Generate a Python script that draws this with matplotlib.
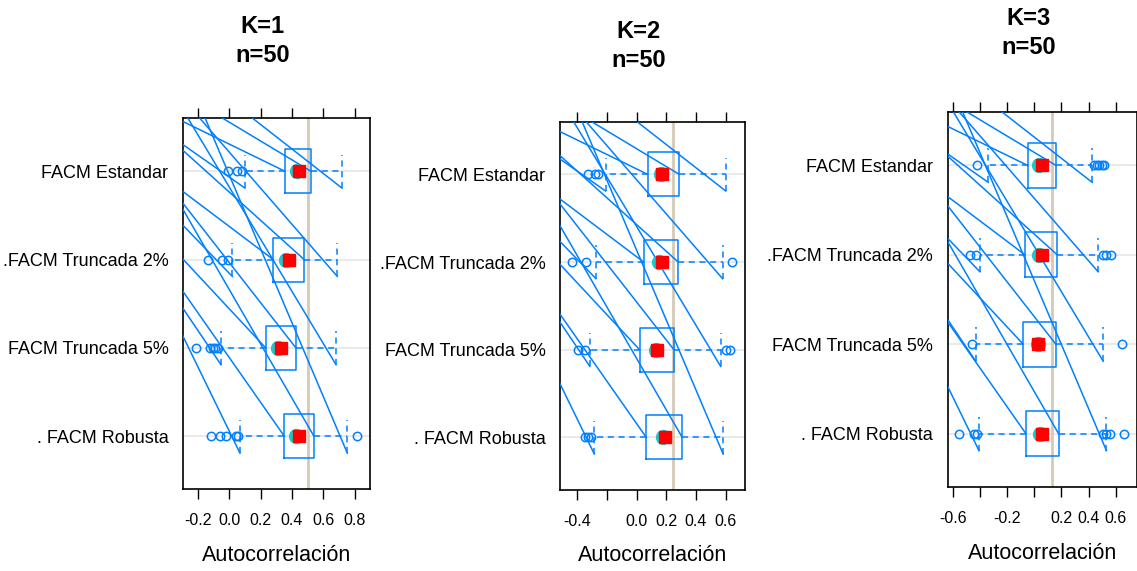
import numpy as np
import matplotlib.pyplot as plt

plt.rcParams['font.family'] = ['Liberation Sans', 'DejaVu Sans']

# categorias de abajo hacia arriba
categorias = ['. FACM Robusta', 'FACM Truncada 5%', '.FACM Truncada 2%', 'FACM Estandar']
titulos = ['K=1\nn=50', 'K=2\nn=50', 'K=3\nn=50']

# K=1
k1_q1 = [0.352, 0.233, 0.281, 0.356]
k1_q3 = [0.541, 0.426, 0.479, 0.522]
k1_med = [0.426, 0.313, 0.362, 0.430]
k1_mean = [0.447, 0.330, 0.383, 0.445]
k1_wlo = [0.068, -0.053, 0.019, 0.100]
k1_whi = [0.754, 0.682, 0.690, 0.720]
k1_out = [[-0.119, -0.06, -0.021, 0.043, 0.058, 0.818],
          [-0.215, -0.125, -0.105, -0.09, -0.075],
          [-0.138, -0.049, -0.01],
          [-0.01, 0.047, 0.083]]
k1_ref = 0.5
k1_ticks = [-0.2, 0.0, 0.2, 0.4, 0.6, 0.8]
k1_ticklab = ['-0.2', '0.0', '0.2', '0.4', '0.6', '0.8']

# K=2
k2_q1 = [0.065, 0.020, 0.047, 0.074]
k2_q3 = [0.307, 0.251, 0.280, 0.287]
k2_med = [0.180, 0.130, 0.152, 0.162]
k2_mean = [0.190, 0.139, 0.168, 0.168]
k2_wlo = [-0.285, -0.315, -0.274, -0.209]
k2_whi = [0.583, 0.566, 0.579, 0.600]
k2_out = [[-0.348, -0.326, -0.31],
          [-0.393, -0.348, 0.60, 0.628],
          [-0.438, -0.343, 0.64],
          [-0.326, -0.281, -0.258]]
k2_ref = 0.247
k2_ticks = [-0.4, -0.2, 0.0, 0.2, 0.4, 0.6]
k2_ticklab = ['-0.4', '', '0.0', '0.2', '0.4', '0.6']

# K=3
k3_q1 = [-0.061, -0.081, -0.068, -0.049]
k3_q3 = [0.179, 0.159, 0.169, 0.159]
k3_med = [0.042, 0.030, 0.037, 0.037]
k3_mean = [0.054, 0.025, 0.054, 0.054]
k3_wlo = [-0.406, -0.430, -0.399, -0.338]
k3_whi = [0.531, 0.507, 0.470, 0.426]
k3_out = [[-0.55, -0.44, -0.423, 0.507, 0.531, 0.556, 0.659],
          [-0.455, 0.646],
          [-0.472, -0.428, 0.507, 0.531, 0.563],
          [-0.423, 0.44, 0.458, 0.477, 0.495, 0.512]]
k3_ref = 0.128
k3_ticks = [-0.6, -0.4, -0.2, 0.0, 0.2, 0.4, 0.6]
k3_ticklab = ['-0.6', '', '-0.2', '', '0.2', '0.4', '0.6']

paneles = [
    (k1_q1, k1_q3, k1_med, k1_mean, k1_wlo, k1_whi, k1_out, k1_ref, k1_ticks, k1_ticklab),
    (k2_q1, k2_q3, k2_med, k2_mean, k2_wlo, k2_whi, k2_out, k2_ref, k2_ticks, k2_ticklab),
    (k3_q1, k3_q3, k3_med, k3_mean, k3_wlo, k3_whi, k3_out, k3_ref, k3_ticks, k3_ticklab),
]

W, H = 1137, 571
# rectangulos de los paneles en pixeles (izq, der, arriba, abajo)
rects_px = [(183, 370, 118.3, 489.3), (560, 745, 121.7, 490.0), (947.7, 1136.5, 111.7, 487.3)]
xlims = [(-0.296, 0.899), (-0.516, 0.730), (-0.636, 0.752)]
titulo_pos = [(262.5, 41), (638.5, 46), (1029, 33)]

azul = '#0080ff'
turquesa = '#1cc8c8'

# angulos (grados) de las lineas diagonales, por fila y por tipo de punto
ang_fila = [62, 54, 44, 33]
ang_tipo = [2, -7, -2, 5]

fig = plt.figure(figsize=(W / 100, H / 100), dpi=100)

for p, (q1, q3, med, mean, wlo, whi, out, ref, ticks, ticklab) in enumerate(paneles):
    l, r, t, b = rects_px[p]
    ax = fig.add_axes([l / W, 1 - b / H, (r - l) / W, (b - t) / H])
    pos = [1, 2, 3, 4]
    ax.set_xlim(*xlims[p])
    ax.set_ylim(0.4, 4.6)

    for y in pos:
        ax.axhline(y, color='#e6e6e6', lw=1.2, zorder=0)
    ax.axvline(ref, color='#d6c9b6', lw=2, zorder=0.5)

    stats = []
    for i in range(4):
        stats.append(dict(med=med[i], q1=q1[i], q3=q3[i], whislo=wlo[i],
                          whishi=whi[i], fliers=out[i], mean=mean[i]))
    ax.bxp(stats, positions=pos, widths=0.5, capwidths=0.38,
           orientation='horizontal', showmeans=True,
           boxprops=dict(color=azul, lw=1.1),
           whiskerprops=dict(color=azul, lw=1.1, linestyle=(0, (4, 3))),
           capprops=dict(color=azul, lw=1.1, linestyle=(0, (4, 3))),
           medianprops=dict(linestyle='none'),
           flierprops=dict(marker='o', mfc='none', mec=azul, ms=6, mew=1.1),
           meanprops=dict(marker='s', mfc='red', mec='red', ms=8.5, zorder=5))
    ax.plot(med, pos, 'o', color=turquesa, ms=10, zorder=4)

    # lineas diagonales (artefacto del grafico original)
    sx = (r - l) / (xlims[p][1] - xlims[p][0])
    sy = (b - t) / 4.2
    for i in range(4):
        puntos = [(wlo[i], pos[i] - 0.19), (q1[i], pos[i]),
                  (q3[i], pos[i]), (whi[i], pos[i] - 0.19)]
        for k, (xe, ye) in enumerate(puntos):
            a = np.radians(ang_fila[i] + ang_tipo[k])
            xs = xe - 600 * np.cos(a) / sx
            ys = ye + 600 * np.sin(a) / sy
            ax.plot([xs, xe], [ys, ye], color=azul, lw=1.1, zorder=3)

    ax.set_xticks(ticks)
    ax.set_xticklabels(ticklab, fontsize=11.5)
    ax.set_yticks(pos)
    ax.set_yticklabels(categorias, fontsize=13)
    ax.tick_params(axis='x', top=True, bottom=True, direction='out', length=7,
                   width=1, pad=10)
    ax.tick_params(axis='y', left=False, pad=7)
    for s in ax.spines.values():
        s.set_linewidth(1.2)
    ax.set_xlabel('Autocorrelación', fontsize=15.5, labelpad=12)

    tx, ty = titulo_pos[p]
    fig.text(tx / W, 1 - ty / H, titulos[p], ha='center', va='center',
             fontsize=17, fontweight='bold', linespacing=1.35)

fig.savefig('out.png', dpi=100)
